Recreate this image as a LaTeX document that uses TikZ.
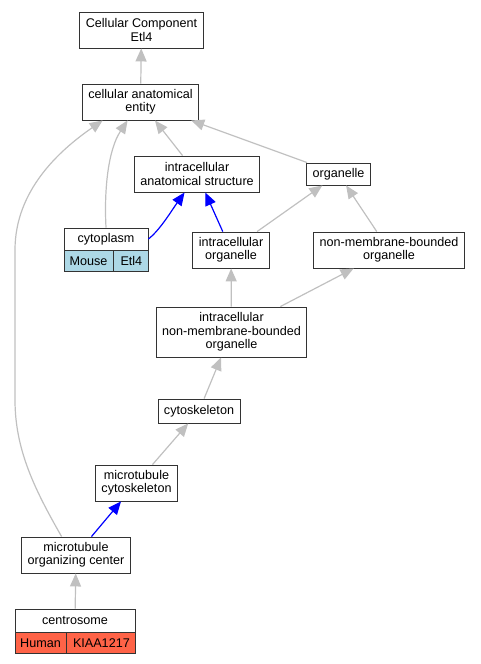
\documentclass[tikz,border=0pt]{standalone}
\usepackage{fontspec}
\setmainfont{Liberation Sans}
\usetikzlibrary{arrows.meta,positioning}
\definecolor{isagray}{HTML}{C0C0C0}
\definecolor{mouseblue}{HTML}{ADD8E6}
\definecolor{humanred}{HTML}{FF6347}
\begin{document}
\begin{tikzpicture}[x=1pt,y=1pt]
  \fontsize{12.6}{13.3}\selectfont
  \tikzset{
    term/.style={draw=black!80, line width=0.9pt, fill=white, align=center, inner xsep=6pt, inner ysep=2pt, minimum height=36pt},
    oneline/.style={term, minimum height=23pt},
    cell/.style={draw=black!80, line width=0.9pt, inner xsep=2pt, inner ysep=1pt, minimum height=21pt, anchor=north west},
    isa/.style={draw=isagray, line width=1.2pt, -{Triangle[length=13pt,width=11pt]}},
    partof/.style={draw=blue, line width=1.2pt, -{Triangle[length=13pt,width=11pt]}},
  }
  \useasboundingbox (0,0) rectangle (480,-664);

  % GO terms, top to bottom
  \node[term] (cc) at (141.5,-30) {Cellular Component\\Etl4};
  \node[term] (cae) at (140.5,-102) {cellular anatomical\\entity};
  \node[term] (ias) at (197,-174) {intracellular\\anatomical structure};
  \node[oneline, minimum height=22pt] (org) at (338.5,-174) {organelle};
  \node[term] (io) at (231,-250) {intracellular\\organelle};
  \node[term] (nmbo) at (389,-250) {non-membrane-bounded\\organelle};
  \node[term, minimum height=50pt] (inmbo) at (231.5,-332) {intracellular\\non-membrane-bounded\\organelle};
  \node[oneline, minimum height=24pt] (csk) at (199,-411) {cytoskeleton};
  \node[term] (mtc) at (136.5,-483) {microtubule\\cytoskeleton};
  \node[term] (mtoc) at (76,-555) {microtubule\\organizing center};

  % annotated terms with species/gene rows
  \node[oneline, minimum height=22pt, minimum width=84pt] (cyto) at (106,-239) {cytoplasm};
  \node[cell, fill=mouseblue, minimum width=49pt] (cytoM) at (cyto.south west) {Mouse};
  \node[cell, fill=mouseblue, minimum width=35pt] (cytoE) at (cytoM.north east) {Etl4};
  \node[oneline, minimum width=120pt] (centro) at (75,-620.5) {centrosome};
  \node[cell, fill=humanred, minimum width=51pt] (centroH) at (centro.south west) {Human};
  \node[cell, fill=humanred, minimum width=69pt] (centroK) at (centroH.north east) {KIAA1217};

  % is_a edges
  \draw[isa] (cae) -- (cc);
  \draw[isa] (ias) -- (cae);
  \draw[isa] (org) -- (cae);
  \draw[isa] (cyto.north) .. controls (104,-190) and (108,-150) .. (cae.235);
  \draw[isa] (mtoc.128) .. controls (35,-490) and (15,-450) .. (15,-400)
    -- (15,-250) .. controls (15,-190) and (60,-150) .. (cae.206);
  \draw[isa] (io) -- (org);
  \draw[isa] (nmbo) -- (org);
  \draw[isa] (inmbo) -- (io);
  \draw[isa] (inmbo) -- (nmbo);
  \draw[isa] (csk) -- (inmbo);
  \draw[isa] (mtc) -- (csk);
  \draw[isa] (centro) -- (mtoc);

  % part_of edges
  \draw[partof] (cyto.east) .. controls (160,-230) and (172,-210) .. (ias.236);
  \draw[partof] (io) -- (ias);
  \draw[partof] (mtoc) -- (mtc);
\end{tikzpicture}
\end{document}
